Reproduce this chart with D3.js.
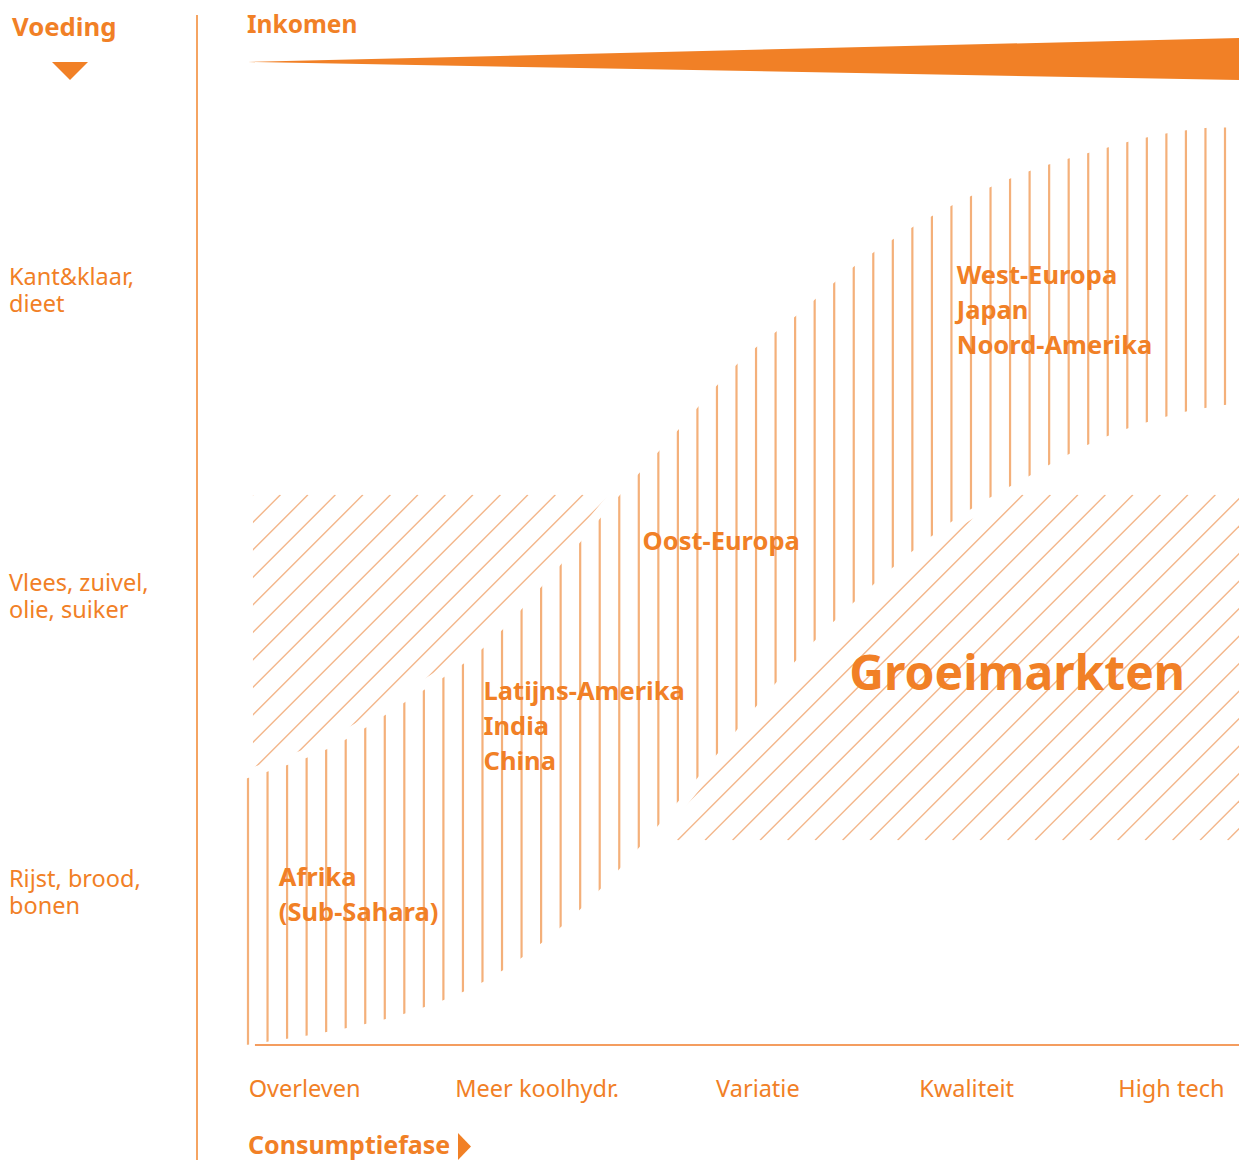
<!DOCTYPE html>
<html>
<head>
<meta charset="utf-8">
<script src="https://cdn.jsdelivr.net/npm/d3@7"></script>
<style>
  body { margin: 0; background: #fff; }
  svg { display: block; }
  text { font-family: "Noto Sans", sans-serif; fill: #f18026; }
</style>
</head>
<body>
<div id="chart"></div>
<script>
// Consumption stages along the bottom (x in stage units, 0..5)
const stages = ["Overleven", "Meer koolhydr.", "Variatie", "Kwaliteit", "High tech"];
const stageAt = [0.3, 1.47, 2.58, 3.63, 4.66];

// Food levels along the left (y in level units, 0..3)
const foods = [["Rijst, brood,", "bonen"], ["Vlees, zuivel,", "olie, suiker"], ["Kant&klaar,", "dieet"]];
const foodAt = [0.5, 1.47, 2.47];

// Development path: upper and lower edge of the vertical-striped band
const bandUpper = [[0, 0.87], [0.42, 0.97], [0.8, 1.12], [1.2, 1.3], [1.6, 1.58], [1.9, 1.81],
  [2.19, 2.02], [2.48, 2.23], [2.78, 2.39], [3.07, 2.55], [3.37, 2.68], [3.66, 2.78],
  [3.95, 2.86], [4.25, 2.92], [4.54, 2.97], [4.83, 3.0], [5, 3.0]];
const bandLower = [[0, 0], [0.39, 0.04], [0.79, 0.1], [1.18, 0.2], [1.56, 0.37], [1.96, 0.63],
  [2.36, 0.94], [2.76, 1.25], [3.15, 1.5], [3.55, 1.71], [3.94, 1.86], [4.33, 1.99],
  [4.72, 2.07], [5, 2.1]];

// Groeimarkten strip (level range), hatched diagonally
const growthFrom = 0.04;
const growthLevels = [0.67, 1.8];

// Region labels
const regionNames = [["Afrika", "(Sub-Sahara)"], ["Latijns-Amerika", "India", "China"],
  ["Oost-Europa"], ["West-Europa", "Japan", "Noord-Amerika"]];
const regionX = [0.17, 1.2, 2.0, 3.58];
const regionY = [0.52, 1.13, 1.62, 2.49];

const W = 1239, H = 1160;
const orange = "#f18026";
const stripe = "#f4b07a";

const svg = d3.select("#chart").append("svg").attr("width", W).attr("height", H);
const x = d3.scaleLinear().domain([0, 5]).range([245, 1239]);
const y = d3.scaleLinear().domain([0, 3]).range([1045, 128]);

const line = d3.line().x(d => x(d[0])).y(d => y(d[1])).curve(d3.curveCatmullRom);
const bandPath = line(bandUpper) + "L" + line(bandLower.slice().reverse()).slice(1) + "Z";

const defs = svg.append("defs");
defs.append("clipPath").attr("id", "bandClip").append("path").attr("d", bandPath);

const gx0 = x(growthFrom), gx1 = x(5);
const gy0 = y(growthLevels[1]), gy1 = y(growthLevels[0]);
defs.append("clipPath").attr("id", "growClip").append("rect")
  .attr("x", gx0).attr("y", gy0).attr("width", gx1 - gx0).attr("height", gy1 - gy0);

// Diagonal hatching of the growth strip
const h = gy1 - gy0;
svg.append("g").attr("clip-path", "url(#growClip)")
  .selectAll("line").data(d3.range(gx0 - h, gx1 + 30, 27.5)).join("line")
  .attr("x1", d => d).attr("y1", gy1)
  .attr("x2", d => d + h).attr("y2", gy0)
  .attr("stroke", "#f3b68a").attr("stroke-width", 1.4);

// White band with a halo to make the gap
svg.append("path").attr("d", bandPath)
  .attr("fill", "#fff").attr("stroke", "#fff").attr("stroke-width", 18)
  .attr("stroke-linejoin", "round");

// Vertical stripes inside the band
svg.append("g").attr("clip-path", "url(#bandClip)")
  .selectAll("line").data(d3.range(248, 1239, 19.54)).join("line")
  .attr("x1", d => d).attr("x2", d => d)
  .attr("y1", y(3) - 5).attr("y2", y(0) + 5)
  .attr("stroke", stripe).attr("stroke-width", 2.2);

// Bottom axis line
svg.append("line")
  .attr("x1", x(0.05)).attr("x2", x(5)).attr("y1", y(0)).attr("y2", y(0))
  .attr("stroke", "#f07d2a").attr("stroke-width", 1.5);

// Divider between food labels and chart
svg.append("line")
  .attr("x1", 197).attr("x2", 197).attr("y1", 15).attr("y2", H)
  .attr("stroke", "#f5a462").attr("stroke-width", 2);

// Inkomen wedge
svg.append("path")
  .attr("d", `M${x(0.015)},62 L${x(5)},38 L${x(5)},80 Z`)
  .attr("fill", orange);

// Headings
svg.append("text").attr("x", 12).attr("y", 36).attr("font-size", 25.7).attr("font-weight", 700).text("Voeding");
svg.append("path").attr("d", "M52,62 L88,62 L70,80 Z").attr("fill", orange);
svg.append("text").attr("x", 247).attr("y", 33).attr("font-size", 24.5).attr("font-weight", 700).text("Inkomen");
svg.append("text").attr("x", 248).attr("y", 1154).attr("font-size", 25).attr("font-weight", 700).text("Consumptiefase");
svg.append("path").attr("d", "M458,1133 L458,1160 L471,1146.5 Z").attr("fill", orange);

// Stage labels
svg.append("g").selectAll("text").data(stages).join("text")
  .attr("x", (d, i) => x(stageAt[i])).attr("y", 1097)
  .attr("text-anchor", "middle").attr("font-size", 23.5)
  .text(d => d);

// Food labels
svg.append("g").selectAll("text").data(foods).join("text")
  .attr("x", 9).attr("y", (d, i) => y(foodAt[i]) - 5)
  .attr("font-size", 23.5)
  .selectAll("tspan").data(d => d).join("tspan")
  .attr("x", 9).attr("dy", (d, i) => i === 0 ? 0 : 27)
  .text(d => d);

// Region labels
svg.append("g").selectAll("text").data(regionNames).join("text")
  .attr("x", (d, i) => x(regionX[i])).attr("y", (d, i) => y(regionY[i]))
  .attr("font-size", 25.5).attr("font-weight", 700)
  .selectAll("tspan").data((d, i) => d.map(t => [t, i])).join("tspan")
  .attr("x", d => x(regionX[d[1]])).attr("dy", (d, i) => i === 0 ? 0 : 35)
  .text(d => d[0]);

svg.append("text").attr("x", x(3.04)).attr("y", y(1.16))
  .attr("font-size", 48).attr("font-weight", 700).text("Groeimarkten");
</script>
</body>
</html>
